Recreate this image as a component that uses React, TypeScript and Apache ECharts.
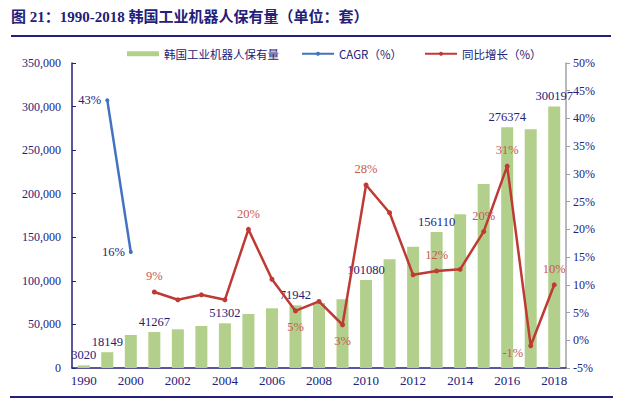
import React, { useEffect, useRef } from "react";
import * as echarts from "echarts";

const categories = ["1990","1995","2000","2001","2002","2003","2004","2005","2006","2007","2008","2009","2010","2011","2012","2013","2014","2015","2016","2017","2018"];
const stockValues = [3020, 18149, 38000, 41267, 44400, 48200, 51302, 62000, 68500, 71942, 74500, 78800, 101080, 124700, 139200, 156110, 176300, 211100, 276374, 273900, 300197];
const labelledBars = ["1990","1995","2001","2004","2007","2010","2013","2016","2018"];
const cagrValues: (number | null)[] = [null, 43.3, 15.9, null, null, null, null, null, null, null, null, null, null, null, null, null, null, null, null, null, null];
const cagrLabels = ["43%", "16%"];
const yoyValues: (number | null)[] = [null, null, null, 8.7, 7.3, 8.2, 7.3, 20.0, 11.0, 5.3, 7.0, 2.8, 28.0, 23.0, 11.8, 12.5, 12.8, 19.6, 31.4, -1.0, 10.0];
const yoyLabelled: Record<string, string> = { "2001": "9%", "2005": "20%", "2007": "5%", "2009": "3%", "2010": "28%", "2013": "12%", "2015": "20%", "2016": "31%", "2017": "-1%", "2018": "10%" };
const belowYoy = ["2007", "2009"];
const leftTicks = [0, 50000, 100000, 150000, 200000, 250000, 300000, 350000];
const rightTicks = [-5, 0, 5, 10, 15, 20, 25, 30, 35, 40, 45, 50];

const NAVY = "#23207A";
const SERIF = "'Liberation Serif', 'Times New Roman', 'Noto Sans CJK SC', serif";

export default function App() {
  const ref = useRef<HTMLDivElement>(null);
  useEffect(() => {
    if (!ref.current) return;
    const chart = echarts.init(ref.current, null, { renderer: "svg" });
    const barData = stockValues.map((v, i) => ({
      value: v,
      label: { show: labelledBars.includes(categories[i]) },
    }));
    let ci = 0;
    const cagrData = cagrValues.map((v) => {
      if (v === null) return null;
      const lbl = cagrLabels[ci++];
      return { value: v, label: { show: true, position: "left", distance: 4, formatter: lbl } };
    });
    const yoyData = yoyValues.map((v, i) => {
      if (v === null) return null;
      const cat = categories[i];
      const lbl = yoyLabelled[cat];
      if (!lbl) return { value: v, label: { show: false } };
      let pos: any = "top";
      let offset = [0, 0];
      if (belowYoy.includes(cat)) pos = "bottom";
      if (cat === "2017") { pos = "left"; offset = [2, 7]; }
      return { value: v, label: { show: true, position: pos, distance: 7, offset, formatter: lbl } };
    });
    chart.setOption({
      animation: false,
      backgroundColor: "#ffffff",
      textStyle: { fontFamily: SERIF },
      title: {
        text: "图 21：1990-2018 韩国工业机器人保有量（单位：套）",
        left: 6,
        top: 4,
        textStyle: { fontFamily: SERIF, fontWeight: "bold", fontSize: 15, color: NAVY },
      },
      graphic: [
        { type: "line", shape: { x1: 11, y1: 36, x2: 611, y2: 36 }, style: { stroke: NAVY, lineWidth: 2 } },
        { type: "line", shape: { x1: 10, y1: 397, x2: 613, y2: 397 }, style: { stroke: NAVY, lineWidth: 2 } },
      ],
      legend: {
        top: 43,
        left: 122,
        itemWidth: 32,
        itemHeight: 5,
        itemGap: 22,
        textStyle: { fontFamily: "'Noto Sans CJK SC', sans-serif", fontSize: 11.5, color: NAVY },
        data: [
          { name: "韩国工业机器人保有量", icon: "rect" },
          { name: "CAGR（%）" },
          { name: "同比增长（%）" },
        ],
      },
      grid: { left: 72, right: 74, top: 63, bottom: 31, containLabel: false },
      xAxis: {
        type: "category",
        data: categories,
        boundaryGap: true,
        axisLine: { lineStyle: { color: NAVY, width: 1.5 } },
        axisTick: { inside: true, interval: 0, length: 5, lineStyle: { color: NAVY } },
        axisLabel: { interval: 1, color: NAVY, fontFamily: SERIF, fontSize: 13, margin: 6 },
      },
      yAxis: [
        {
          type: "value",
          min: leftTicks[0],
          max: leftTicks[leftTicks.length - 1],
          interval: leftTicks[1] - leftTicks[0],
          splitLine: { show: false },
          axisLine: { show: true, lineStyle: { color: NAVY, width: 1.5 } },
          axisTick: { show: true, inside: true, length: 4, lineStyle: { color: NAVY } },
          axisLabel: {
            color: NAVY,
            fontFamily: SERIF,
            fontSize: 12,
            margin: 11,
            formatter: (v: number) => v.toLocaleString("en-US"),
          },
        },
        {
          type: "value",
          min: rightTicks[0],
          max: rightTicks[rightTicks.length - 1],
          interval: rightTicks[1] - rightTicks[0],
          splitLine: { show: false },
          axisLine: { show: true, lineStyle: { color: "#A0A0A8", width: 1.5 } },
          axisTick: { show: true, inside: false, length: 4, lineStyle: { color: "#A0A0A8" } },
          axisLabel: { color: NAVY, fontFamily: SERIF, fontSize: 12, margin: 7, formatter: "{value}%" },
        },
      ],
      series: [
        {
          name: "韩国工业机器人保有量",
          type: "bar",
          data: barData,
          barWidth: 12,
          itemStyle: { color: "#B2D08C" },
          label: { position: "top", distance: 4, color: NAVY, fontFamily: SERIF, fontSize: 12.5 },
        },
        {
          name: "CAGR（%）",
          type: "line",
          yAxisIndex: 1,
          data: cagrData,
          connectNulls: false,
          symbol: "circle",
          symbolSize: 4,
          lineStyle: { color: "#4272C0", width: 2.5 },
          itemStyle: { color: "#4272C0" },
          label: { color: NAVY, fontFamily: SERIF, fontSize: 12.5 },
        },
        {
          name: "同比增长（%）",
          type: "line",
          yAxisIndex: 1,
          data: yoyData,
          connectNulls: false,
          symbol: "circle",
          symbolSize: 5,
          lineStyle: { color: "#BE3A33", width: 2.5 },
          itemStyle: { color: "#BE3A33" },
          label: { color: "#C8594E", fontFamily: SERIF, fontSize: 12.5 },
        },
      ],
    });
    return () => chart.dispose();
  }, []);
  return (
    <div
      ref={ref}
      style={{ position: "fixed", left: 0, top: 0, width: 640, height: 399, background: "#fff" }}
    />
  );
}
